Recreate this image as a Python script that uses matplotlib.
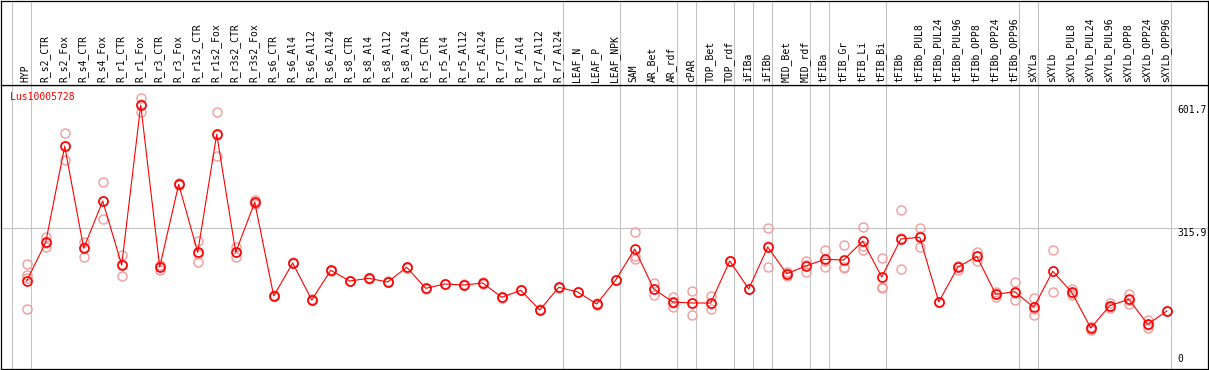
import matplotlib
matplotlib.use("Agg")
import matplotlib.pyplot as plt

GENE = "Lus10005728"

SAMPLES = [
    "HYP", "R_s2_CTR", "R_s2_Fox", "R_s4_CTR", "R_s4_Fox", "R_r1_CTR", "R_r1_Fox",
    "R_r3_CTR", "R_r3_Fox", "R_r1s2_CTR", "R_r1s2_Fox", "R_r3s2_CTR", "R_r3s2_Fox",
    "R_s6_CTR", "R_s6_Al4", "R_s6_Al12", "R_s6_Al24", "R_s8_CTR", "R_s8_Al4",
    "R_s8_Al12", "R_s8_Al24", "R_r5_CTR", "R_r5_Al4", "R_r5_Al12", "R_r5_Al24",
    "R_r7_CTR", "R_r7_Al4", "R_r7_Al12", "R_r7_Al24", "LEAF_N", "LEAF_P", "LEAF_NPK",
    "SAM", "AR_Bet", "AR_rdf", "cPAR", "TOP_Bet", "TOP_rdf", "iFIBa", "iFIBb",
    "MID_Bet", "MID_rdf", "tFIBa", "tFIB_Gr", "tFIB_Li", "tFIB_Bi", "tFIBb",
    "tFIBb_PUL8", "tFIBb_PUL24", "tFIBb_PUL96", "tFIBb_OPP8", "tFIBb_OPP24",
    "tFIBb_OPP96", "sXYLa", "sXYLb", "sXYLb_PUL8", "sXYLb_PUL24", "sXYLb_PUL96",
    "sXYLb_OPP8", "sXYLb_OPP24", "sXYLb_OPP96",
]

MEANS = [
    192.8, 282.8, 505.8, 268.8, 378.7, 230.0, 601.7, 225.4, 417.5, 259.5,
    533.7, 259.5, 375.7, 158.0, 234.7, 148.7, 217.7, 192.8, 199.1, 190.5,
    224.7, 175.9, 185.9, 183.5, 188.2, 155.0, 171.2, 125.5, 178.2, 167.3,
    139.4, 195.2, 267.2, 174.3, 144.1, 141.7, 141.7, 239.3, 174.3, 271.8,
    209.8, 227.7, 243.3, 241.6, 285.8, 202.1, 290.4, 294.4, 144.1, 224.7,
    250.2, 161.9, 168.0, 131.7, 215.4, 166.6, 83.6, 135.5, 150.3, 92.2, 123.1,
]

REPLICATES = [
    [232.3, 206.8, 199.8, 127.1], [294.4, 272.5, 282.0], [536.0, 474.0, 507.4],
    [284.2, 249.3, 272.9], [422.2, 336.2, 377.7], [253.3, 205.2, 231.5],
    [617.3, 584.8, 603.0], [228.4, 218.4, 229.4], [420.0, 415.0, 417.5],
    [286.5, 236.3, 255.7], [584.8, 484.0, 532.3], [271.1, 247.9, 259.5],
    [381.0, 375.0, 371.0], [160.0, 157.0, 157.0], [236.0, 234.0, 234.0],
    [150.0, 148.0, 148.0], [219.0, 217.0, 217.0], [194.0, 192.0, 192.0],
    [200.0, 199.0, 198.0], [192.0, 190.0, 190.0], [226.0, 224.0, 224.0],
    [177.0, 176.0, 175.0], [187.0, 186.0, 185.0], [185.0, 183.0, 183.0],
    [190.0, 188.0, 187.0], [156.0, 155.0, 154.0], [172.0, 171.0, 171.0],
    [127.0, 125.0, 125.0], [180.0, 178.0, 177.0], [168.0, 167.0, 167.0],
    [141.0, 139.0, 138.0], [196.0, 195.0, 195.0], [306.0, 251.6, 244.0],
    [188.9, 160.3, 173.7], [156.4, 133.1, 142.8], [169.6, 113.2, 142.3],
    [158.0, 127.1, 140.0], [240.0, 239.0, 239.0], [175.0, 174.0, 174.0],
    [315.3, 225.4, 274.7], [205.2, 214.5, 209.7], [239.3, 214.5, 229.3],
    [264.9, 225.4, 239.6], [276.5, 226.1, 222.4], [318.3, 264.9, 274.2],
    [245.6, 179.6, 175.9], [357.8, 220.0, 293.4], [315.3, 271.1, 296.8],
    [145.0, 144.0, 143.0], [218.4, 228.0, 227.7], [260.9, 239.3, 250.4],
    [166.6, 156.4, 162.7], [189.8, 149.4, 164.8], [154.0, 113.2, 127.9],
    [264.2, 166.6, 215.4], [174.3, 160.3, 165.2], [79.0, 85.0, 86.8],
    [142.4, 129.4, 134.7], [162.6, 138.7, 149.6], [102.2, 83.6, 90.8],
    [124.0, 123.0, 122.0],
]

# sample index after which a grey separator is drawn
SEPARATORS = [-1, 0, 28, 31, 34, 35, 37, 38, 39, 41, 42, 45, 52, 53, 60]

Y_MAX_LABEL = 601.7
Y_MID_LABEL = 315.9

GRID = "#c4c4c4"
FONT = "DejaVu Sans Mono"

W, H = 1209, 370
fig = plt.figure(figsize=(W / 100, H / 100), dpi=100)

plot_top = 85
ax = fig.add_axes([1 / W, 1 / H, 1207 / W, (369 - plot_top) / H])
hdr = fig.add_axes([1 / W, (H - plot_top) / H, 1207 / W, (plot_top - 1) / H], sharex=ax)

x = list(range(len(SAMPLES)))
ax.set_xlim(-1.353, 62.17)
ax.set_ylim(-11.6, 648.2)
hdr.set_ylim(0, 1)

for a in (ax, hdr):
    a.set_xticks([])
    a.set_yticks([])
    for s in a.spines.values():
        s.set_color("black")
        s.set_linewidth(0.9)
    for i in SEPARATORS:
        a.axvline(i + 0.2, color=GRID, lw=0.8, zorder=0)

ax.axhline(Y_MID_LABEL, color=GRID, lw=0.8, zorder=0)

for i, reps in enumerate(REPLICATES):
    ax.plot([i] * len(reps), reps, "o", ms=6.5, mfc="none", mec="#f09c9c", mew=1.0, zorder=2)

ax.plot(x, MEANS, "-", color="red", lw=0.8, zorder=3)
ax.plot(x, MEANS, "o", ms=6.5, mfc="none", mec="red", mew=1.2, zorder=4)

for i, name in enumerate(SAMPLES):
    hdr.text(i - 0.05, 0.035, name, rotation=90, ha="center", va="bottom",
             fontsize=7, family=FONT, color="black")

ax.text(0.0075, 0.958, GENE, transform=ax.transAxes, color="red",
        fontsize=7, family=FONT, va="center", ha="left")

lbl_tr = ax.get_yaxis_transform()
ax.text(0.975, Y_MAX_LABEL, f"{Y_MAX_LABEL}", transform=lbl_tr, va="top", ha="left",
        fontsize=7, family=FONT)
ax.text(0.975, Y_MID_LABEL, f"{Y_MID_LABEL}", transform=lbl_tr, va="top", ha="left",
        fontsize=7, family=FONT)
ax.text(0.975, 0, "0", transform=lbl_tr, va="bottom", ha="left", fontsize=7, family=FONT)

fig.savefig("out.png", dpi=100)
